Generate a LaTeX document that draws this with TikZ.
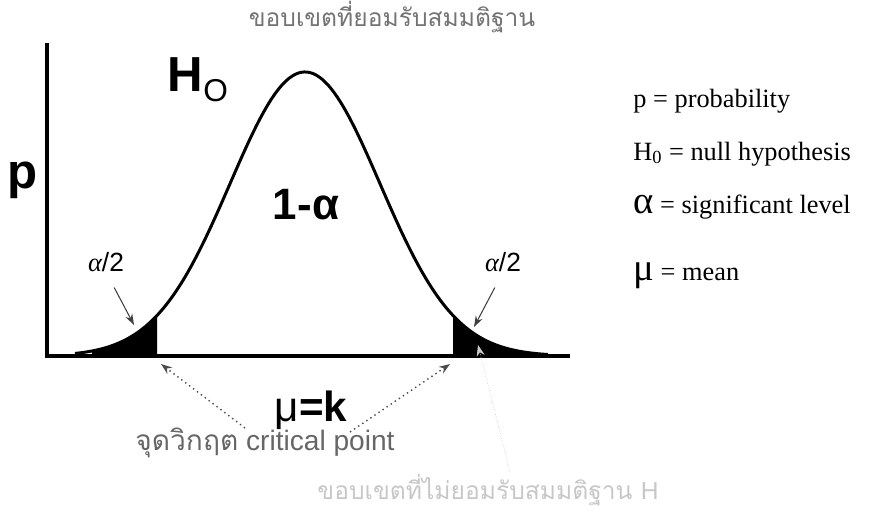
\documentclass[tikz,border=0pt]{standalone}
\usepackage{fontspec}
\setmainfont{Liberation Serif}
\setsansfont{Liberation Sans}
\newfontfamily\thaifont[Script=Thai]{Loma}
\usetikzlibrary{arrows.meta}

\begin{document}
\begin{tikzpicture}[
  x=0.02cm, y=-0.02cm,
  declare function={bell(\t)=356-284*exp(-((\t-305)/75)^2/2);},
  axis/.style={line width=2.8pt, line join=miter},
  curve/.style={line width=1.7pt},
  tip/.style={-{Stealth[length=2.2mm,width=1.5mm]}, semithick, black!75},
  critarrow/.style={-{Stealth[length=2.2mm,width=1.6mm]}, thick, dotted, black!70},
  faint/.style={-{Stealth[length=2.2mm,width=1.6mm]}, densely dotted, black!20},
  big/.style={font=\sffamily\bfseries\fontsize{24}{28}\selectfont, inner sep=0pt},
  thai/.style={font=\thaifont\fontsize{14}{16}\selectfont, inner sep=0pt},
  key/.style={font=\rmfamily\fontsize{15}{18}\selectfont, anchor=base west, inner sep=0pt}
]
  \useasboundingbox (0,0) rectangle (875,515);

  % --- shaded tails (rejection regions) ---------------------------------
  \fill[black] plot[domain=92:157, samples=40] (\x,{bell(\x)}) -- (157,356) -- (92,356) -- cycle;
  \fill[black] plot[domain=453:540, samples=40] (\x,{bell(\x)}) -- (540,356) -- (453,356) -- cycle;

  % --- bell curve and axes ----------------------------------------------
  \draw[curve] plot[domain=75:548, samples=160] (\x,{bell(\x)});
  \draw[axis] (47,43) -- (47,356) -- (570,356);

  % --- labels on the plot -----------------------------------------------
  \node[big, font=\sffamily\bfseries\fontsize{28}{30}\selectfont] (plabel) at (23,180) {p};
  \node[big, font=\sffamily\bfseries\fontsize{28}{30}\selectfont] (hzero) at (198,80) {H\raisebox{-0.4ex}{\mdseries\fontsize{18}{18}\selectfont O}};
  \node[big, font=\sffamily\bfseries\fontsize{25}{28}\selectfont] (area) at (306,205) {1-α};
  \node[font=\sffamily\fontsize{15}{18}\selectfont, inner sep=0pt] (alphaL) at (106,262) {{\rmfamily\itshape α}/2};
  \node[font=\sffamily\fontsize{15}{18}\selectfont, inner sep=0pt] (alphaR) at (503,262) {{\rmfamily\itshape α}/2};
  \node[big] (muk) at (311,410) {{\mdseries μ}=k};

  \coordinate (tailL) at (134,325);
  \coordinate (tailR) at (474,327);
  \draw[tip, shorten <=10pt] (alphaL.south) -- (tailL);
  \draw[tip, shorten <=10pt] (alphaR.south) -- (tailR);

  % --- critical points --------------------------------------------------
  \node[font=\sffamily\fontsize{16}{18}\selectfont, text=black!60, inner sep=0pt] (critlabel) at (265,443)
    {{\thaifont จุดวิกฤต} critical point};
  \coordinate (critL) at (161,364);
  \coordinate (critR) at (450,364);
  \coordinate (critLfoot) at (245,428);
  \coordinate (critRfoot) at (350,432);
  \draw[critarrow] (critLfoot) -- (critL);
  \draw[critarrow] (critRfoot) -- (critR);

  % --- regions ----------------------------------------------------------
  \node[thai, text=black!55] (accept) at (392,17) {ขอบเขตที่ยอมรับสมมติฐาน};
  \node[thai, text=black!22] (reject) at (488,490) {ขอบเขตที่ไม่ยอมรับสมมติฐาน {\sffamily H}};
  \coordinate (rejfoot) at (510,472);
  \coordinate (rejtail) at (478,345);
  \draw[faint] (rejfoot) -- (rejtail);

  % --- legend -----------------------------------------------------------
  \node[key] (kp) at (633,107) {p = probability};
  \node[key] (kh) at (633,160) {H\textsubscript{0} = null hypothesis};
  \node[key] (ka) at (633,213) {{\fontsize{22}{22}\selectfont α} = significant level};
  \node[key] (km) at (633,280) {{\fontsize{22}{22}\selectfont μ} = mean};
\end{tikzpicture}
\end{document}
